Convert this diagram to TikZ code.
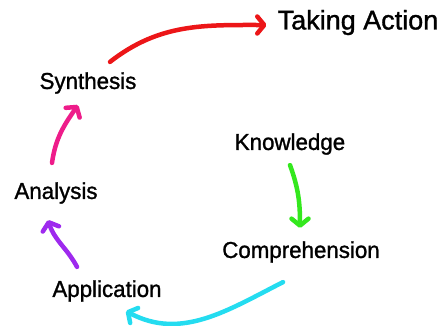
\documentclass[tikz,border=0pt]{standalone}
\usepackage{fontspec}
\setmainfont{Liberation Sans}[FakeBold=1.2]
\newfontfamily\lblfont{Liberation Sans}[FakeBold=1.2,FakeStretch=0.97]
\usetikzlibrary{arrows.meta}
\definecolor{redarr}{RGB}{236,22,24}
\definecolor{pinkarr}{RGB}{238,28,138}
\definecolor{purplearr}{RGB}{158,42,238}
\definecolor{greenarr}{RGB}{52,232,30}
\definecolor{cyanarr}{RGB}{36,220,240}
\begin{document}
\begin{tikzpicture}[x=1pt,y=1pt,
    lbl/.style={inner sep=0pt,font=\lblfont\fontsize{23}{25}\selectfont},
    arr/.style={line width=4.5pt,line cap=round,-{Straight Barb[round,length=7pt,width=17pt]}}]
\useasboundingbox (0,0) rectangle (444,-325);
% the stages of the cycle
\node[inner sep=0pt,font=\fontsize{27}{30}\selectfont] (tak) at (358,-22.5) {Taking Action};
\node[lbl] (syn) at (88,-83) {Synthesis};
\node[lbl] (kno) at (290,-144) {Knowledge};
\node[lbl] (ana) at (56,-193) {Analysis};
\node[lbl] (com) at (301,-252) {Comprehension};
\node[lbl] (app) at (107,-291) {Application};
% curved arrows between them
\draw[arr,greenarr] ([yshift=-10.2pt]kno.south) to[out=-70,in=90] ([xshift=-1pt,yshift=13.2pt]com.north);
\draw[arr,cyanarr] ([xshift=-18pt,yshift=-19.2pt]com.south) to[out=207,in=-28] ([xshift=19pt,yshift=-9.2pt]app.south);
\draw[arr,purplearr] ([xshift=-30pt,yshift=13.2pt]app.north) to[out=118,in=-72] ([xshift=-8pt,yshift=-16.2pt]ana.south);
\draw[arr,pinkarr] ([xshift=-4pt,yshift=19.2pt]ana.north) to[out=82,in=235] ([xshift=-10pt,yshift=-11.2pt]syn.south);
\draw[arr,redarr] ([xshift=22pt,yshift=10.2pt]syn.north) to[out=38,in=180] ([xshift=-11pt,yshift=-2.5pt]tak.west);
\end{tikzpicture}
\end{document}
